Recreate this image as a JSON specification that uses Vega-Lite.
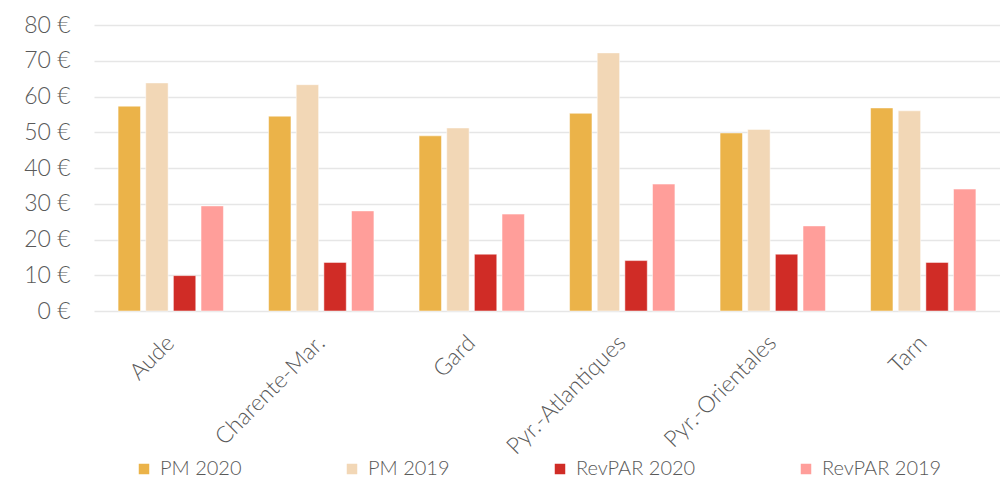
{
  "$schema": "https://vega.github.io/schema/vega-lite/v6.json",
  "autosize": "none",
  "padding": {"left": 94, "top": 25, "right": 0, "bottom": 171},
  "width": 906,
  "height": 286,
  "background": "white",
  "config": {
    "font": "Lato",
    "view": {"stroke": null}
  },
  "data": {
    "values": [
      {"dep": "Aude", "serie": "PM 2020", "val": 57.3},
      {"dep": "Aude", "serie": "PM 2019", "val": 63.8},
      {"dep": "Aude", "serie": "RevPAR 2020", "val": 9.9},
      {"dep": "Aude", "serie": "RevPAR 2019", "val": 29.4},
      {"dep": "Charente-Mar.", "serie": "PM 2020", "val": 54.5},
      {"dep": "Charente-Mar.", "serie": "PM 2019", "val": 63.3},
      {"dep": "Charente-Mar.", "serie": "RevPAR 2020", "val": 13.6},
      {"dep": "Charente-Mar.", "serie": "RevPAR 2019", "val": 28.0},
      {"dep": "Gard", "serie": "PM 2020", "val": 49.0},
      {"dep": "Gard", "serie": "PM 2019", "val": 51.2},
      {"dep": "Gard", "serie": "RevPAR 2020", "val": 15.9},
      {"dep": "Gard", "serie": "RevPAR 2019", "val": 27.1},
      {"dep": "Pyr.-Atlantiques", "serie": "PM 2020", "val": 55.3},
      {"dep": "Pyr.-Atlantiques", "serie": "PM 2019", "val": 72.2},
      {"dep": "Pyr.-Atlantiques", "serie": "RevPAR 2020", "val": 14.1},
      {"dep": "Pyr.-Atlantiques", "serie": "RevPAR 2019", "val": 35.5},
      {"dep": "Pyr.-Orientales", "serie": "PM 2020", "val": 49.8},
      {"dep": "Pyr.-Orientales", "serie": "PM 2019", "val": 50.8},
      {"dep": "Pyr.-Orientales", "serie": "RevPAR 2020", "val": 15.9},
      {"dep": "Pyr.-Orientales", "serie": "RevPAR 2019", "val": 23.8},
      {"dep": "Tarn", "serie": "PM 2020", "val": 56.8},
      {"dep": "Tarn", "serie": "PM 2019", "val": 56.0},
      {"dep": "Tarn", "serie": "RevPAR 2020", "val": 13.6},
      {"dep": "Tarn", "serie": "RevPAR 2019", "val": 34.1}
    ]
  },
  "mark": {"type": "bar", "stroke": "white", "strokeWidth": 0.5},
  "encoding": {
    "x": {
      "field": "dep",
      "type": "nominal",
      "sort": null,
      "title": null,
      "scale": {"paddingInner": 0.3, "paddingOuter": 0.16},
      "axis": {
        "domain": false,
        "ticks": false,
        "labelAngle": -45,
        "labelAlign": "right",
        "labelBaseline": "middle",
        "labelFontSize": 23,
        "labelFontWeight": 300,
        "labelColor": "#595959",
        "labelPadding": 28,
        "labelLimit": 300
      }
    },
    "xOffset": {
      "field": "serie",
      "type": "nominal",
      "sort": ["PM 2020", "PM 2019", "RevPAR 2020", "RevPAR 2019"],
      "scale": {"paddingInner": 0.19, "paddingOuter": 0}
    },
    "y": {
      "field": "val",
      "type": "quantitative",
      "title": null,
      "scale": {"domain": [0, 80], "nice": false},
      "axis": {
        "values": [0, 10, 20, 30, 40, 50, 60, 70, 80],
        "format": "d",
        "labelExpr": "datum.label + ' €'",
        "domain": false,
        "ticks": false,
        "labelFontSize": 23,
        "labelFontWeight": 300,
        "labelColor": "#595959",
        "labelPadding": 24,
        "gridColor": "#e6e6e6",
        "gridWidth": 1.5
      }
    },
    "color": {
      "field": "serie",
      "type": "nominal",
      "sort": ["PM 2020", "PM 2019", "RevPAR 2020", "RevPAR 2019"],
      "scale": {
        "domain": ["PM 2020", "PM 2019", "RevPAR 2020", "RevPAR 2019"],
        "range": ["#EBB349", "#F2D7B6", "#D02C26", "#FF9E9A"]
      },
      "legend": {
        "title": null,
        "orient": "none",
        "direction": "horizontal",
        "legendX": 40,
        "legendY": 434,
        "symbolType": "square",
        "symbolSize": 110,
        "symbolStrokeWidth": 0,
        "labelFontSize": 20,
        "labelFontWeight": 300,
        "labelColor": "#595959",
        "labelOffset": 6,
        "columnPadding": 100,
        "labelLimit": 300
      }
    }
  }
}
